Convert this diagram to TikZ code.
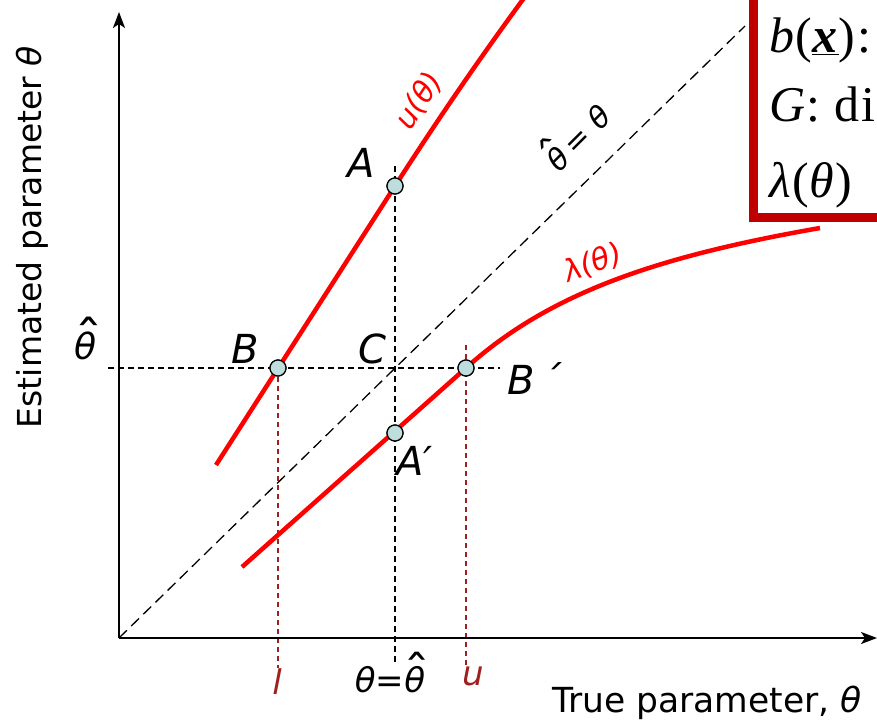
\RequirePackage{fix-cm}
\documentclass[tikz,border=0pt]{standalone}
\usepackage{graphicx}
\usepackage{fontspec}
\setmainfont{DejaVu Sans}
\newfontfamily\boxfont[LetterSpace=3]{Liberation Serif}
\usetikzlibrary{arrows.meta}
\definecolor{cred}{HTML}{FF0000}
\definecolor{dred}{HTML}{A02020}
\definecolor{boxred}{HTML}{C00000}
\definecolor{ptfill}{HTML}{BEDEDE}
\newcommand\fsz[1]{\fontsize{#1}{#1}\selectfont}
\newcommand\thh{{\setbox0=\hbox{\itshape θ}\setbox2=\hbox{\upshape\scalebox{1.6}[1.3]{ˆ}}%
  \hbox to\wd0{\hss\raisebox{0.15em}[0pt][0pt]{\kern0.16em\box2}\hss}\kern-\wd0\box0}}
\tikzset{
  axis/.style={line width=2pt,-{Stealth[length=16pt,width=12pt,inset=4pt]}},
  guide/.style={black,line width=1.3pt,dash pattern=on 6pt off 4pt},
  diag/.style={black,line width=1.3pt,dash pattern=on 11pt off 6pt},
  rguide/.style={dred,line width=1.4pt,dash pattern=on 5pt off 4pt},
  curve/.style={cred,line width=4.5pt},
  pt/.style={circle,draw=black,line width=1.2pt,fill=ptfill,minimum size=16pt,inner sep=0pt},
  lbl/.style={font=\fsz{40}\itshape,inner sep=0pt},
  clbl/.style={font=\fsz{30}\itshape,inner sep=0pt,text=cred},
  boxtxt/.style={anchor=base west,inner sep=0pt,font=\boxfont\fsz{50}},
}
\begin{document}
\begin{tikzpicture}[x=1pt,y=-1pt]
\useasboundingbox (0,0) rectangle (877,722);
\clip (0,0) rectangle (877,722);
% key points
\coordinate (O) at (119,638);
\coordinate (Ytop) at (119,12);
\coordinate (Xend) at (877,638);
\coordinate (D1) at (745,26);
\coordinate (Hl) at (108,368);
\coordinate (Hr) at (500,368);
\coordinate (Vt) at (395,166);
\coordinate (Vb) at (395,662);
\coordinate (Lb) at (278,668);
\coordinate (Ut) at (466,345);
\coordinate (Ub) at (466,666);
\coordinate (U0) at (216,465);
\coordinate (U1) at (524,-2);
\coordinate (L0) at (242,567);
\coordinate (L1) at (820,228);
% guides
\draw[diag] (O) -- (D1);
\draw[guide] (Hl) -- (Hr);
\draw[guide] (Vt) -- (Vb);
\draw[rguide] (278,368) -- (Lb);
\draw[rguide] (Ut) -- (Ub);
% axes
\draw[axis] (O) -- (Ytop);
\draw[axis] (O) -- (Xend);
% points
\node[pt] (B) at (278,368) {};
\node[pt] (A) at (395,186) {};
\node[pt] (A2) at (395,433) {};
\node[pt] (B2) at (466,368) {};
% curves
\draw[curve] (U0) -- (A.center) .. controls (440,116) and (480,58) .. (U1);
\draw[curve] (L0) -- (B2.center) .. controls (550,292) and (660,256) .. (L1);
% redraw points on top
\foreach \p in {B,A,A2,B2} \node[pt] at (\p) {};
% point labels
\node[lbl] at (361,163) {A};
\node[lbl] at (245,349) {B};
\node[lbl] at (372,349) {C};
\node[lbl,anchor=west] at (507,379) {B\,´};
\node[lbl,anchor=west] at (396,461) {A′};
% curve labels
\node[clbl,rotate=57] at (419,101) {u(θ)};
\node[clbl,rotate=20] at (593,263) {λ(θ)};
\node[font=\fsz{30},inner sep=0pt,rotate=45] at (578,138) {\thh\,= \textit{θ}};
% axis labels
\node[font=\fsz{36},inner sep=0pt] at (86,346) {\thh};
\node[font=\fsz{34}\itshape,inner sep=0pt,text=dred] at (277,682) {l};
\node[font=\fsz{34},inner sep=0pt] at (390,680) {\textit{θ}=\thh};
\node[font=\fsz{34}\itshape,inner sep=0pt,text=dred] at (473,676) {u};
\node[font=\fsz{34.5},inner sep=0pt,anchor=base east] at (862,712) {True parameter, \textit{θ}};
\node[font=\fsz{33},inner sep=0pt,rotate=90] at (32,237) {Estimated parameter \textit{θ}};
% box
\draw[boxred,line width=9pt,fill=white] (753,-20) rectangle (920,217);
\node[boxtxt] at (769,53) {\textit{b}(\underline{\textbf{\textit{x}}}):};
\node[boxtxt] at (769,122) {\textit{G}: di};
\node[boxtxt] at (769,197) {\textit{λ}(\textit{θ})};
\end{tikzpicture}
\end{document}
